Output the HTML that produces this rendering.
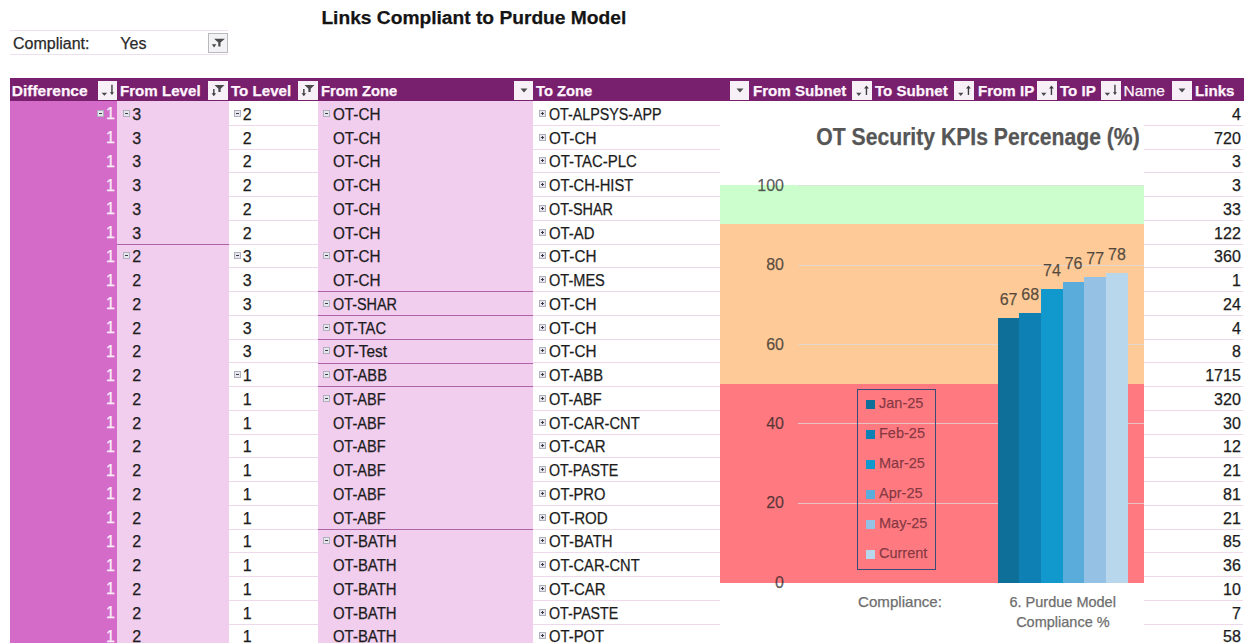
<!DOCTYPE html>
<html><head><meta charset="utf-8"><style>
*{margin:0;padding:0;box-sizing:border-box}
html,body{width:1256px;height:643px;overflow:hidden;background:#fff}
body{position:relative;font-family:"Liberation Sans",sans-serif}
.t{position:absolute;line-height:1;white-space:nowrap;-webkit-text-stroke:0.25px currentColor}
.r{position:absolute}
.ic{position:absolute;width:7px;height:7px;background:#e6e6ee;border:1px solid #b0b0bc}
.ic i{position:absolute;left:1px;top:2px;width:3px;height:1px;background:#3c3c44}
.ic b{position:absolute;left:2px;top:1px;width:1px;height:3px;background:#3c3c44}
</style></head><body>
<div class="t" style="left:321.40px;top:7.55px;font-size:19.2px;color:#141414;font-weight:bold;">Links Compliant to Purdue Model</div>
<div class="r" style="left:10.00px;top:30.00px;width:218.00px;height:1.00px;background:#eedfee;"></div>
<div class="r" style="left:10.00px;top:54.00px;width:218.00px;height:1.00px;background:#eedfee;"></div>
<div class="t" style="left:13.00px;top:35.96px;font-size:16px;color:#2a2a2a;font-weight:normal;">Compliant:</div>
<div class="t" style="left:120.30px;top:35.96px;font-size:16px;color:#2a2a2a;font-weight:normal;">Yes</div>
<div class="r" style="left:208px;top:33px;width:20px;height:20px;background:#f3f3f5;border:1px solid #b9b9bd"><svg width="18" height="18" viewBox="0 0 18 18" style="position:absolute;left:0;top:0"><path d="M5.1 4.7H15.9L11.5 8.6V12.4H9.3V8.6Z" fill="#4a4a4a"/><path d="M2.9 10.2H7.3L5.1 13.4Z" fill="#4a4a4a"/></svg></div>
<div class="r" style="left:10.00px;top:101.00px;width:107.00px;height:542.00px;background:#d46bc9;"></div>
<div class="r" style="left:117.00px;top:101.00px;width:112.00px;height:542.00px;background:#f1cdee;"></div>
<div class="r" style="left:318.00px;top:101.00px;width:215.00px;height:542.00px;background:#f1cdee;"></div>
<div class="r" style="left:229.00px;top:124.75px;width:89.00px;height:1.00px;background:#eed9ec;"></div>
<div class="r" style="left:533.00px;top:124.75px;width:187.00px;height:1.00px;background:#eed9ec;"></div>
<div class="r" style="left:1144.00px;top:124.75px;width:99.00px;height:1.00px;background:#eed9ec;"></div>
<div class="r" style="left:229.00px;top:148.50px;width:89.00px;height:1.00px;background:#eed9ec;"></div>
<div class="r" style="left:533.00px;top:148.50px;width:187.00px;height:1.00px;background:#eed9ec;"></div>
<div class="r" style="left:1144.00px;top:148.50px;width:99.00px;height:1.00px;background:#eed9ec;"></div>
<div class="r" style="left:229.00px;top:172.25px;width:89.00px;height:1.00px;background:#eed9ec;"></div>
<div class="r" style="left:533.00px;top:172.25px;width:187.00px;height:1.00px;background:#eed9ec;"></div>
<div class="r" style="left:1144.00px;top:172.25px;width:99.00px;height:1.00px;background:#eed9ec;"></div>
<div class="r" style="left:229.00px;top:196.00px;width:89.00px;height:1.00px;background:#eed9ec;"></div>
<div class="r" style="left:533.00px;top:196.00px;width:187.00px;height:1.00px;background:#eed9ec;"></div>
<div class="r" style="left:1144.00px;top:196.00px;width:99.00px;height:1.00px;background:#eed9ec;"></div>
<div class="r" style="left:229.00px;top:219.75px;width:89.00px;height:1.00px;background:#eed9ec;"></div>
<div class="r" style="left:533.00px;top:219.75px;width:187.00px;height:1.00px;background:#eed9ec;"></div>
<div class="r" style="left:1144.00px;top:219.75px;width:99.00px;height:1.00px;background:#eed9ec;"></div>
<div class="r" style="left:229.00px;top:243.50px;width:89.00px;height:1.00px;background:#eed9ec;"></div>
<div class="r" style="left:533.00px;top:243.50px;width:187.00px;height:1.00px;background:#eed9ec;"></div>
<div class="r" style="left:1144.00px;top:243.50px;width:99.00px;height:1.00px;background:#eed9ec;"></div>
<div class="r" style="left:229.00px;top:267.25px;width:89.00px;height:1.00px;background:#eed9ec;"></div>
<div class="r" style="left:533.00px;top:267.25px;width:187.00px;height:1.00px;background:#eed9ec;"></div>
<div class="r" style="left:1144.00px;top:267.25px;width:99.00px;height:1.00px;background:#eed9ec;"></div>
<div class="r" style="left:229.00px;top:291.00px;width:89.00px;height:1.00px;background:#eed9ec;"></div>
<div class="r" style="left:533.00px;top:291.00px;width:187.00px;height:1.00px;background:#eed9ec;"></div>
<div class="r" style="left:1144.00px;top:291.00px;width:99.00px;height:1.00px;background:#eed9ec;"></div>
<div class="r" style="left:229.00px;top:314.75px;width:89.00px;height:1.00px;background:#eed9ec;"></div>
<div class="r" style="left:533.00px;top:314.75px;width:187.00px;height:1.00px;background:#eed9ec;"></div>
<div class="r" style="left:1144.00px;top:314.75px;width:99.00px;height:1.00px;background:#eed9ec;"></div>
<div class="r" style="left:229.00px;top:338.50px;width:89.00px;height:1.00px;background:#eed9ec;"></div>
<div class="r" style="left:533.00px;top:338.50px;width:187.00px;height:1.00px;background:#eed9ec;"></div>
<div class="r" style="left:1144.00px;top:338.50px;width:99.00px;height:1.00px;background:#eed9ec;"></div>
<div class="r" style="left:229.00px;top:362.25px;width:89.00px;height:1.00px;background:#eed9ec;"></div>
<div class="r" style="left:533.00px;top:362.25px;width:187.00px;height:1.00px;background:#eed9ec;"></div>
<div class="r" style="left:1144.00px;top:362.25px;width:99.00px;height:1.00px;background:#eed9ec;"></div>
<div class="r" style="left:229.00px;top:386.00px;width:89.00px;height:1.00px;background:#eed9ec;"></div>
<div class="r" style="left:533.00px;top:386.00px;width:187.00px;height:1.00px;background:#eed9ec;"></div>
<div class="r" style="left:1144.00px;top:386.00px;width:99.00px;height:1.00px;background:#eed9ec;"></div>
<div class="r" style="left:229.00px;top:409.75px;width:89.00px;height:1.00px;background:#eed9ec;"></div>
<div class="r" style="left:533.00px;top:409.75px;width:187.00px;height:1.00px;background:#eed9ec;"></div>
<div class="r" style="left:1144.00px;top:409.75px;width:99.00px;height:1.00px;background:#eed9ec;"></div>
<div class="r" style="left:229.00px;top:433.50px;width:89.00px;height:1.00px;background:#eed9ec;"></div>
<div class="r" style="left:533.00px;top:433.50px;width:187.00px;height:1.00px;background:#eed9ec;"></div>
<div class="r" style="left:1144.00px;top:433.50px;width:99.00px;height:1.00px;background:#eed9ec;"></div>
<div class="r" style="left:229.00px;top:457.25px;width:89.00px;height:1.00px;background:#eed9ec;"></div>
<div class="r" style="left:533.00px;top:457.25px;width:187.00px;height:1.00px;background:#eed9ec;"></div>
<div class="r" style="left:1144.00px;top:457.25px;width:99.00px;height:1.00px;background:#eed9ec;"></div>
<div class="r" style="left:229.00px;top:481.00px;width:89.00px;height:1.00px;background:#eed9ec;"></div>
<div class="r" style="left:533.00px;top:481.00px;width:187.00px;height:1.00px;background:#eed9ec;"></div>
<div class="r" style="left:1144.00px;top:481.00px;width:99.00px;height:1.00px;background:#eed9ec;"></div>
<div class="r" style="left:229.00px;top:504.75px;width:89.00px;height:1.00px;background:#eed9ec;"></div>
<div class="r" style="left:533.00px;top:504.75px;width:187.00px;height:1.00px;background:#eed9ec;"></div>
<div class="r" style="left:1144.00px;top:504.75px;width:99.00px;height:1.00px;background:#eed9ec;"></div>
<div class="r" style="left:229.00px;top:528.50px;width:89.00px;height:1.00px;background:#eed9ec;"></div>
<div class="r" style="left:533.00px;top:528.50px;width:187.00px;height:1.00px;background:#eed9ec;"></div>
<div class="r" style="left:1144.00px;top:528.50px;width:99.00px;height:1.00px;background:#eed9ec;"></div>
<div class="r" style="left:229.00px;top:552.25px;width:89.00px;height:1.00px;background:#eed9ec;"></div>
<div class="r" style="left:533.00px;top:552.25px;width:187.00px;height:1.00px;background:#eed9ec;"></div>
<div class="r" style="left:1144.00px;top:552.25px;width:99.00px;height:1.00px;background:#eed9ec;"></div>
<div class="r" style="left:229.00px;top:576.00px;width:89.00px;height:1.00px;background:#eed9ec;"></div>
<div class="r" style="left:533.00px;top:576.00px;width:187.00px;height:1.00px;background:#eed9ec;"></div>
<div class="r" style="left:1144.00px;top:576.00px;width:99.00px;height:1.00px;background:#eed9ec;"></div>
<div class="r" style="left:229.00px;top:599.75px;width:89.00px;height:1.00px;background:#eed9ec;"></div>
<div class="r" style="left:533.00px;top:599.75px;width:187.00px;height:1.00px;background:#eed9ec;"></div>
<div class="r" style="left:1144.00px;top:599.75px;width:99.00px;height:1.00px;background:#eed9ec;"></div>
<div class="r" style="left:229.00px;top:623.50px;width:89.00px;height:1.00px;background:#eed9ec;"></div>
<div class="r" style="left:533.00px;top:623.50px;width:187.00px;height:1.00px;background:#eed9ec;"></div>
<div class="r" style="left:1144.00px;top:623.50px;width:99.00px;height:1.00px;background:#eed9ec;"></div>
<div class="r" style="left:229.00px;top:647.25px;width:89.00px;height:1.00px;background:#eed9ec;"></div>
<div class="r" style="left:533.00px;top:647.25px;width:187.00px;height:1.00px;background:#eed9ec;"></div>
<div class="r" style="left:1144.00px;top:647.25px;width:99.00px;height:1.00px;background:#eed9ec;"></div>
<div class="r" style="left:117.00px;top:244.00px;width:112.00px;height:1.00px;background:#b064a8;"></div>
<div class="r" style="left:318.00px;top:291.30px;width:215.00px;height:1.00px;background:#b064a8;"></div>
<div class="r" style="left:318.00px;top:315.05px;width:215.00px;height:1.00px;background:#b064a8;"></div>
<div class="r" style="left:318.00px;top:338.80px;width:215.00px;height:1.00px;background:#b064a8;"></div>
<div class="r" style="left:318.00px;top:362.55px;width:215.00px;height:1.00px;background:#b064a8;"></div>
<div class="r" style="left:318.00px;top:386.30px;width:215.00px;height:1.00px;background:#b064a8;"></div>
<div class="r" style="left:318.00px;top:528.80px;width:215.00px;height:1.00px;background:#b064a8;"></div>
<div class="r" style="left:10.00px;top:78.00px;width:1234.00px;height:23.00px;background:#78206e;"></div>
<div class="t" style="left:11.80px;top:82.88px;font-size:15.5px;color:#fff4fc;font-weight:bold;">Difference</div>
<div class="r" style="left:97.80px;top:80.80px;width:19.6px;height:18.8px;background:#f7f1f7;"><svg width="19.6" height="18.8" viewBox="0 0 19 19" style="position:absolute;left:0;top:0"><path d="M3.2 11.8H8.9L6.05 15Z" fill="#4a4a4a"/><path d="M13.7 3.8V12" stroke="#3c3c3c" stroke-width="1.4"/><path d="M11.7 11.3H15.7L13.7 14.2Z" fill="#3c3c3c"/></svg></div>
<div class="t" style="left:120.20px;top:82.88px;font-size:15.5px;color:#fff4fc;font-weight:bold;transform:scaleX(0.975);transform-origin:left;">From Level</div>
<div class="r" style="left:208.20px;top:80.80px;width:19.6px;height:18.8px;background:#f7f1f7;"><svg width="19.6" height="18.8" viewBox="0 0 19 19" style="position:absolute;left:0;top:0"><path d="M5.5 8V13" stroke="#3c3c3c" stroke-width="1.4"/><path d="M3.3 12.4H7.7L5.5 15.3Z" fill="#3c3c3c"/><path d="M6.2 4.1H16.3L12.4 7.8V11H10.1V7.8Z" fill="#4a4a4a"/></svg></div>
<div class="t" style="left:231.00px;top:82.88px;font-size:15.5px;color:#fff4fc;font-weight:bold;transform:scaleX(0.975);transform-origin:left;">To Level</div>
<div class="r" style="left:298.00px;top:80.80px;width:19.6px;height:18.8px;background:#f7f1f7;"><svg width="19.6" height="18.8" viewBox="0 0 19 19" style="position:absolute;left:0;top:0"><path d="M5.5 8V13" stroke="#3c3c3c" stroke-width="1.4"/><path d="M3.3 12.4H7.7L5.5 15.3Z" fill="#3c3c3c"/><path d="M6.2 4.1H16.3L12.4 7.8V11H10.1V7.8Z" fill="#4a4a4a"/></svg></div>
<div class="t" style="left:320.90px;top:82.88px;font-size:15.5px;color:#fff4fc;font-weight:bold;transform:scaleX(0.95);transform-origin:left;">From Zone</div>
<div class="r" style="left:513.90px;top:80.80px;width:19.6px;height:18.8px;background:#f7f1f7;"><svg width="19.6" height="18.8" viewBox="0 0 19 19" style="position:absolute;left:0;top:0"><path d="M6.2 7.7H13.2L9.7 11.5Z" fill="#4a4a4a"/></svg></div>
<div class="t" style="left:536.30px;top:82.88px;font-size:15.5px;color:#fff4fc;font-weight:bold;transform:scaleX(0.95);transform-origin:left;">To Zone</div>
<div class="r" style="left:729.60px;top:80.80px;width:19.6px;height:18.8px;background:#f7f1f7;"><svg width="19.6" height="18.8" viewBox="0 0 19 19" style="position:absolute;left:0;top:0"><path d="M6.2 7.7H13.2L9.7 11.5Z" fill="#4a4a4a"/></svg></div>
<div class="t" style="left:752.70px;top:82.88px;font-size:15.5px;color:#fff4fc;font-weight:bold;transform:scaleX(0.975);transform-origin:left;">From Subnet</div>
<div class="r" style="left:852.20px;top:80.80px;width:19.6px;height:18.8px;background:#f7f1f7;"><svg width="19.6" height="18.8" viewBox="0 0 19 19" style="position:absolute;left:0;top:0"><path d="M3.8 11.8H9.1L6.45 15.1Z" fill="#4a4a4a"/><path d="M14.2 6.5V14.1" stroke="#3c3c3c" stroke-width="1.4"/><path d="M11.8 7.6H16.6L14.2 4.6Z" fill="#3c3c3c"/></svg></div>
<div class="t" style="left:874.80px;top:82.88px;font-size:15.5px;color:#fff4fc;font-weight:bold;transform:scaleX(0.975);transform-origin:left;">To Subnet</div>
<div class="r" style="left:954.30px;top:80.80px;width:19.6px;height:18.8px;background:#f7f1f7;"><svg width="19.6" height="18.8" viewBox="0 0 19 19" style="position:absolute;left:0;top:0"><path d="M3.8 11.8H9.1L6.45 15.1Z" fill="#4a4a4a"/><path d="M14.2 6.5V14.1" stroke="#3c3c3c" stroke-width="1.4"/><path d="M11.8 7.6H16.6L14.2 4.6Z" fill="#3c3c3c"/></svg></div>
<div class="t" style="left:977.60px;top:82.88px;font-size:15.5px;color:#fff4fc;font-weight:bold;transform:scaleX(0.975);transform-origin:left;">From IP</div>
<div class="r" style="left:1037.30px;top:80.80px;width:19.6px;height:18.8px;background:#f7f1f7;"><svg width="19.6" height="18.8" viewBox="0 0 19 19" style="position:absolute;left:0;top:0"><path d="M3.8 11.8H9.1L6.45 15.1Z" fill="#4a4a4a"/><path d="M14.2 6.5V14.1" stroke="#3c3c3c" stroke-width="1.4"/><path d="M11.8 7.6H16.6L14.2 4.6Z" fill="#3c3c3c"/></svg></div>
<div class="t" style="left:1060.10px;top:82.88px;font-size:15.5px;color:#fff4fc;font-weight:bold;transform:scaleX(0.975);transform-origin:left;">To IP</div>
<div class="r" style="left:1101.00px;top:80.80px;width:19.6px;height:18.8px;background:#f7f1f7;"><svg width="19.6" height="18.8" viewBox="0 0 19 19" style="position:absolute;left:0;top:0"><path d="M3.2 11.8H8.9L6.05 15Z" fill="#4a4a4a"/><path d="M13.7 3.8V12" stroke="#3c3c3c" stroke-width="1.4"/><path d="M11.7 11.3H15.7L13.7 14.2Z" fill="#3c3c3c"/></svg></div>
<div class="t" style="left:1123.50px;top:82.88px;font-size:15.5px;color:#fff4fc;font-weight:normal;">Name</div>
<div class="r" style="left:1172.00px;top:80.80px;width:19.6px;height:18.8px;background:#f7f1f7;"><svg width="19.6" height="18.8" viewBox="0 0 19 19" style="position:absolute;left:0;top:0"><path d="M6.2 7.7H13.2L9.7 11.5Z" fill="#4a4a4a"/></svg></div>
<div class="t" style="left:1194.90px;top:82.88px;font-size:15.5px;color:#fff4fc;font-weight:bold;transform:scaleX(0.975);transform-origin:left;">Links</div>
<div class="t" style="right:1141.20px;top:106.36px;font-size:16px;color:#fbeefa;font-weight:normal;">1</div>
<div class="t" style="left:132.30px;top:106.96px;font-size:16px;color:#1c1c1c;font-weight:normal;">3</div>
<div class="t" style="left:242.80px;top:106.96px;font-size:16px;color:#1c1c1c;font-weight:normal;">2</div>
<div class="t" style="left:333.00px;top:106.96px;font-size:16px;color:#1c1c1c;font-weight:normal;transform:scaleX(0.952);transform-origin:left;">OT-CH</div>
<div class="t" style="left:548.80px;top:106.96px;font-size:16px;color:#1c1c1c;font-weight:normal;transform:scaleX(0.892);transform-origin:left;">OT-ALPSYS-APP</div>
<div class="t" style="right:15.20px;top:106.96px;font-size:16px;color:#1c1c1c;font-weight:normal;">4</div>
<div class="ic" style="left:96.80px;top:109.90px"><i></i></div>
<div class="ic" style="left:123.00px;top:109.90px"><i></i></div>
<div class="ic" style="left:233.60px;top:109.90px"><i></i></div>
<div class="ic" style="left:322.80px;top:109.90px"><i></i></div>
<div class="ic" style="left:539.20px;top:109.90px"><i></i><b></b></div>
<div class="t" style="right:1141.20px;top:130.11px;font-size:16px;color:#fbeefa;font-weight:normal;">1</div>
<div class="t" style="left:132.30px;top:130.71px;font-size:16px;color:#1c1c1c;font-weight:normal;">3</div>
<div class="t" style="left:242.80px;top:130.71px;font-size:16px;color:#1c1c1c;font-weight:normal;">2</div>
<div class="t" style="left:333.00px;top:130.71px;font-size:16px;color:#1c1c1c;font-weight:normal;transform:scaleX(0.952);transform-origin:left;">OT-CH</div>
<div class="t" style="left:548.80px;top:130.71px;font-size:16px;color:#1c1c1c;font-weight:normal;transform:scaleX(0.952);transform-origin:left;">OT-CH</div>
<div class="t" style="right:15.20px;top:130.71px;font-size:16px;color:#1c1c1c;font-weight:normal;">720</div>
<div class="ic" style="left:539.20px;top:133.65px"><i></i><b></b></div>
<div class="t" style="right:1141.20px;top:153.86px;font-size:16px;color:#fbeefa;font-weight:normal;">1</div>
<div class="t" style="left:132.30px;top:154.46px;font-size:16px;color:#1c1c1c;font-weight:normal;">3</div>
<div class="t" style="left:242.80px;top:154.46px;font-size:16px;color:#1c1c1c;font-weight:normal;">2</div>
<div class="t" style="left:333.00px;top:154.46px;font-size:16px;color:#1c1c1c;font-weight:normal;transform:scaleX(0.952);transform-origin:left;">OT-CH</div>
<div class="t" style="left:548.80px;top:154.46px;font-size:16px;color:#1c1c1c;font-weight:normal;transform:scaleX(0.935);transform-origin:left;">OT-TAC-PLC</div>
<div class="t" style="right:15.20px;top:154.46px;font-size:16px;color:#1c1c1c;font-weight:normal;">3</div>
<div class="ic" style="left:539.20px;top:157.40px"><i></i><b></b></div>
<div class="t" style="right:1141.20px;top:177.61px;font-size:16px;color:#fbeefa;font-weight:normal;">1</div>
<div class="t" style="left:132.30px;top:178.21px;font-size:16px;color:#1c1c1c;font-weight:normal;">3</div>
<div class="t" style="left:242.80px;top:178.21px;font-size:16px;color:#1c1c1c;font-weight:normal;">2</div>
<div class="t" style="left:333.00px;top:178.21px;font-size:16px;color:#1c1c1c;font-weight:normal;transform:scaleX(0.952);transform-origin:left;">OT-CH</div>
<div class="t" style="left:548.80px;top:178.21px;font-size:16px;color:#1c1c1c;font-weight:normal;transform:scaleX(0.92);transform-origin:left;">OT-CH-HIST</div>
<div class="t" style="right:15.20px;top:178.21px;font-size:16px;color:#1c1c1c;font-weight:normal;">3</div>
<div class="ic" style="left:539.20px;top:181.15px"><i></i><b></b></div>
<div class="t" style="right:1141.20px;top:201.36px;font-size:16px;color:#fbeefa;font-weight:normal;">1</div>
<div class="t" style="left:132.30px;top:201.96px;font-size:16px;color:#1c1c1c;font-weight:normal;">3</div>
<div class="t" style="left:242.80px;top:201.96px;font-size:16px;color:#1c1c1c;font-weight:normal;">2</div>
<div class="t" style="left:333.00px;top:201.96px;font-size:16px;color:#1c1c1c;font-weight:normal;transform:scaleX(0.952);transform-origin:left;">OT-CH</div>
<div class="t" style="left:548.80px;top:201.96px;font-size:16px;color:#1c1c1c;font-weight:normal;transform:scaleX(0.9);transform-origin:left;">OT-SHAR</div>
<div class="t" style="right:15.20px;top:201.96px;font-size:16px;color:#1c1c1c;font-weight:normal;">33</div>
<div class="ic" style="left:539.20px;top:204.90px"><i></i><b></b></div>
<div class="t" style="right:1141.20px;top:225.11px;font-size:16px;color:#fbeefa;font-weight:normal;">1</div>
<div class="t" style="left:132.30px;top:225.71px;font-size:16px;color:#1c1c1c;font-weight:normal;">3</div>
<div class="t" style="left:242.80px;top:225.71px;font-size:16px;color:#1c1c1c;font-weight:normal;">2</div>
<div class="t" style="left:333.00px;top:225.71px;font-size:16px;color:#1c1c1c;font-weight:normal;transform:scaleX(0.952);transform-origin:left;">OT-CH</div>
<div class="t" style="left:548.80px;top:225.71px;font-size:16px;color:#1c1c1c;font-weight:normal;transform:scaleX(0.93);transform-origin:left;">OT-AD</div>
<div class="t" style="right:15.20px;top:225.71px;font-size:16px;color:#1c1c1c;font-weight:normal;">122</div>
<div class="ic" style="left:539.20px;top:228.65px"><i></i><b></b></div>
<div class="t" style="right:1141.20px;top:248.86px;font-size:16px;color:#fbeefa;font-weight:normal;">1</div>
<div class="t" style="left:132.30px;top:249.46px;font-size:16px;color:#1c1c1c;font-weight:normal;">2</div>
<div class="t" style="left:242.80px;top:249.46px;font-size:16px;color:#1c1c1c;font-weight:normal;">3</div>
<div class="t" style="left:333.00px;top:249.46px;font-size:16px;color:#1c1c1c;font-weight:normal;transform:scaleX(0.952);transform-origin:left;">OT-CH</div>
<div class="t" style="left:548.80px;top:249.46px;font-size:16px;color:#1c1c1c;font-weight:normal;transform:scaleX(0.952);transform-origin:left;">OT-CH</div>
<div class="t" style="right:15.20px;top:249.46px;font-size:16px;color:#1c1c1c;font-weight:normal;">360</div>
<div class="ic" style="left:123.00px;top:252.40px"><i></i></div>
<div class="ic" style="left:233.60px;top:252.40px"><i></i></div>
<div class="ic" style="left:322.80px;top:252.40px"><i></i></div>
<div class="ic" style="left:539.20px;top:252.40px"><i></i><b></b></div>
<div class="t" style="right:1141.20px;top:272.61px;font-size:16px;color:#fbeefa;font-weight:normal;">1</div>
<div class="t" style="left:132.30px;top:273.21px;font-size:16px;color:#1c1c1c;font-weight:normal;">2</div>
<div class="t" style="left:242.80px;top:273.21px;font-size:16px;color:#1c1c1c;font-weight:normal;">3</div>
<div class="t" style="left:333.00px;top:273.21px;font-size:16px;color:#1c1c1c;font-weight:normal;transform:scaleX(0.952);transform-origin:left;">OT-CH</div>
<div class="t" style="left:548.80px;top:273.21px;font-size:16px;color:#1c1c1c;font-weight:normal;transform:scaleX(0.91);transform-origin:left;">OT-MES</div>
<div class="t" style="right:15.20px;top:273.21px;font-size:16px;color:#1c1c1c;font-weight:normal;">1</div>
<div class="ic" style="left:539.20px;top:276.15px"><i></i><b></b></div>
<div class="t" style="right:1141.20px;top:296.36px;font-size:16px;color:#fbeefa;font-weight:normal;">1</div>
<div class="t" style="left:132.30px;top:296.96px;font-size:16px;color:#1c1c1c;font-weight:normal;">2</div>
<div class="t" style="left:242.80px;top:296.96px;font-size:16px;color:#1c1c1c;font-weight:normal;">3</div>
<div class="t" style="left:333.00px;top:296.96px;font-size:16px;color:#1c1c1c;font-weight:normal;transform:scaleX(0.9);transform-origin:left;">OT-SHAR</div>
<div class="t" style="left:548.80px;top:296.96px;font-size:16px;color:#1c1c1c;font-weight:normal;transform:scaleX(0.952);transform-origin:left;">OT-CH</div>
<div class="t" style="right:15.20px;top:296.96px;font-size:16px;color:#1c1c1c;font-weight:normal;">24</div>
<div class="ic" style="left:322.80px;top:299.90px"><i></i></div>
<div class="ic" style="left:539.20px;top:299.90px"><i></i><b></b></div>
<div class="t" style="right:1141.20px;top:320.11px;font-size:16px;color:#fbeefa;font-weight:normal;">1</div>
<div class="t" style="left:132.30px;top:320.71px;font-size:16px;color:#1c1c1c;font-weight:normal;">2</div>
<div class="t" style="left:242.80px;top:320.71px;font-size:16px;color:#1c1c1c;font-weight:normal;">3</div>
<div class="t" style="left:333.00px;top:320.71px;font-size:16px;color:#1c1c1c;font-weight:normal;transform:scaleX(0.925);transform-origin:left;">OT-TAC</div>
<div class="t" style="left:548.80px;top:320.71px;font-size:16px;color:#1c1c1c;font-weight:normal;transform:scaleX(0.952);transform-origin:left;">OT-CH</div>
<div class="t" style="right:15.20px;top:320.71px;font-size:16px;color:#1c1c1c;font-weight:normal;">4</div>
<div class="ic" style="left:322.80px;top:323.65px"><i></i></div>
<div class="ic" style="left:539.20px;top:323.65px"><i></i><b></b></div>
<div class="t" style="right:1141.20px;top:343.86px;font-size:16px;color:#fbeefa;font-weight:normal;">1</div>
<div class="t" style="left:132.30px;top:344.46px;font-size:16px;color:#1c1c1c;font-weight:normal;">2</div>
<div class="t" style="left:242.80px;top:344.46px;font-size:16px;color:#1c1c1c;font-weight:normal;">3</div>
<div class="t" style="left:333.00px;top:344.46px;font-size:16px;color:#1c1c1c;font-weight:normal;transform:scaleX(0.965);transform-origin:left;">OT-Test</div>
<div class="t" style="left:548.80px;top:344.46px;font-size:16px;color:#1c1c1c;font-weight:normal;transform:scaleX(0.952);transform-origin:left;">OT-CH</div>
<div class="t" style="right:15.20px;top:344.46px;font-size:16px;color:#1c1c1c;font-weight:normal;">8</div>
<div class="ic" style="left:322.80px;top:347.40px"><i></i></div>
<div class="ic" style="left:539.20px;top:347.40px"><i></i><b></b></div>
<div class="t" style="right:1141.20px;top:367.61px;font-size:16px;color:#fbeefa;font-weight:normal;">1</div>
<div class="t" style="left:132.30px;top:368.21px;font-size:16px;color:#1c1c1c;font-weight:normal;">2</div>
<div class="t" style="left:242.80px;top:368.21px;font-size:16px;color:#1c1c1c;font-weight:normal;">1</div>
<div class="t" style="left:333.00px;top:368.21px;font-size:16px;color:#1c1c1c;font-weight:normal;transform:scaleX(0.92);transform-origin:left;">OT-ABB</div>
<div class="t" style="left:548.80px;top:368.21px;font-size:16px;color:#1c1c1c;font-weight:normal;transform:scaleX(0.92);transform-origin:left;">OT-ABB</div>
<div class="t" style="right:15.20px;top:368.21px;font-size:16px;color:#1c1c1c;font-weight:normal;">1715</div>
<div class="ic" style="left:233.60px;top:371.15px"><i></i></div>
<div class="ic" style="left:322.80px;top:371.15px"><i></i></div>
<div class="ic" style="left:539.20px;top:371.15px"><i></i><b></b></div>
<div class="t" style="right:1141.20px;top:391.36px;font-size:16px;color:#fbeefa;font-weight:normal;">1</div>
<div class="t" style="left:132.30px;top:391.96px;font-size:16px;color:#1c1c1c;font-weight:normal;">2</div>
<div class="t" style="left:242.80px;top:391.96px;font-size:16px;color:#1c1c1c;font-weight:normal;">1</div>
<div class="t" style="left:333.00px;top:391.96px;font-size:16px;color:#1c1c1c;font-weight:normal;transform:scaleX(0.91);transform-origin:left;">OT-ABF</div>
<div class="t" style="left:548.80px;top:391.96px;font-size:16px;color:#1c1c1c;font-weight:normal;transform:scaleX(0.91);transform-origin:left;">OT-ABF</div>
<div class="t" style="right:15.20px;top:391.96px;font-size:16px;color:#1c1c1c;font-weight:normal;">320</div>
<div class="ic" style="left:322.80px;top:394.90px"><i></i></div>
<div class="ic" style="left:539.20px;top:394.90px"><i></i><b></b></div>
<div class="t" style="right:1141.20px;top:415.11px;font-size:16px;color:#fbeefa;font-weight:normal;">1</div>
<div class="t" style="left:132.30px;top:415.71px;font-size:16px;color:#1c1c1c;font-weight:normal;">2</div>
<div class="t" style="left:242.80px;top:415.71px;font-size:16px;color:#1c1c1c;font-weight:normal;">1</div>
<div class="t" style="left:333.00px;top:415.71px;font-size:16px;color:#1c1c1c;font-weight:normal;transform:scaleX(0.91);transform-origin:left;">OT-ABF</div>
<div class="t" style="left:548.80px;top:415.71px;font-size:16px;color:#1c1c1c;font-weight:normal;transform:scaleX(0.919);transform-origin:left;">OT-CAR-CNT</div>
<div class="t" style="right:15.20px;top:415.71px;font-size:16px;color:#1c1c1c;font-weight:normal;">30</div>
<div class="ic" style="left:539.20px;top:418.65px"><i></i><b></b></div>
<div class="t" style="right:1141.20px;top:438.86px;font-size:16px;color:#fbeefa;font-weight:normal;">1</div>
<div class="t" style="left:132.30px;top:439.46px;font-size:16px;color:#1c1c1c;font-weight:normal;">2</div>
<div class="t" style="left:242.80px;top:439.46px;font-size:16px;color:#1c1c1c;font-weight:normal;">1</div>
<div class="t" style="left:333.00px;top:439.46px;font-size:16px;color:#1c1c1c;font-weight:normal;transform:scaleX(0.91);transform-origin:left;">OT-ABF</div>
<div class="t" style="left:548.80px;top:439.46px;font-size:16px;color:#1c1c1c;font-weight:normal;transform:scaleX(0.937);transform-origin:left;">OT-CAR</div>
<div class="t" style="right:15.20px;top:439.46px;font-size:16px;color:#1c1c1c;font-weight:normal;">12</div>
<div class="ic" style="left:539.20px;top:442.40px"><i></i><b></b></div>
<div class="t" style="right:1141.20px;top:462.61px;font-size:16px;color:#fbeefa;font-weight:normal;">1</div>
<div class="t" style="left:132.30px;top:463.21px;font-size:16px;color:#1c1c1c;font-weight:normal;">2</div>
<div class="t" style="left:242.80px;top:463.21px;font-size:16px;color:#1c1c1c;font-weight:normal;">1</div>
<div class="t" style="left:333.00px;top:463.21px;font-size:16px;color:#1c1c1c;font-weight:normal;transform:scaleX(0.91);transform-origin:left;">OT-ABF</div>
<div class="t" style="left:548.80px;top:463.21px;font-size:16px;color:#1c1c1c;font-weight:normal;transform:scaleX(0.889);transform-origin:left;">OT-PASTE</div>
<div class="t" style="right:15.20px;top:463.21px;font-size:16px;color:#1c1c1c;font-weight:normal;">21</div>
<div class="ic" style="left:539.20px;top:466.15px"><i></i><b></b></div>
<div class="t" style="right:1141.20px;top:486.36px;font-size:16px;color:#fbeefa;font-weight:normal;">1</div>
<div class="t" style="left:132.30px;top:486.96px;font-size:16px;color:#1c1c1c;font-weight:normal;">2</div>
<div class="t" style="left:242.80px;top:486.96px;font-size:16px;color:#1c1c1c;font-weight:normal;">1</div>
<div class="t" style="left:333.00px;top:486.96px;font-size:16px;color:#1c1c1c;font-weight:normal;transform:scaleX(0.91);transform-origin:left;">OT-ABF</div>
<div class="t" style="left:548.80px;top:486.96px;font-size:16px;color:#1c1c1c;font-weight:normal;transform:scaleX(0.92);transform-origin:left;">OT-PRO</div>
<div class="t" style="right:15.20px;top:486.96px;font-size:16px;color:#1c1c1c;font-weight:normal;">81</div>
<div class="ic" style="left:539.20px;top:489.90px"><i></i><b></b></div>
<div class="t" style="right:1141.20px;top:510.11px;font-size:16px;color:#fbeefa;font-weight:normal;">1</div>
<div class="t" style="left:132.30px;top:510.71px;font-size:16px;color:#1c1c1c;font-weight:normal;">2</div>
<div class="t" style="left:242.80px;top:510.71px;font-size:16px;color:#1c1c1c;font-weight:normal;">1</div>
<div class="t" style="left:333.00px;top:510.71px;font-size:16px;color:#1c1c1c;font-weight:normal;transform:scaleX(0.91);transform-origin:left;">OT-ABF</div>
<div class="t" style="left:548.80px;top:510.71px;font-size:16px;color:#1c1c1c;font-weight:normal;transform:scaleX(0.944);transform-origin:left;">OT-ROD</div>
<div class="t" style="right:15.20px;top:510.71px;font-size:16px;color:#1c1c1c;font-weight:normal;">21</div>
<div class="ic" style="left:539.20px;top:513.65px"><i></i><b></b></div>
<div class="t" style="right:1141.20px;top:533.86px;font-size:16px;color:#fbeefa;font-weight:normal;">1</div>
<div class="t" style="left:132.30px;top:534.46px;font-size:16px;color:#1c1c1c;font-weight:normal;">2</div>
<div class="t" style="left:242.80px;top:534.46px;font-size:16px;color:#1c1c1c;font-weight:normal;">1</div>
<div class="t" style="left:333.00px;top:534.46px;font-size:16px;color:#1c1c1c;font-weight:normal;transform:scaleX(0.934);transform-origin:left;">OT-BATH</div>
<div class="t" style="left:548.80px;top:534.46px;font-size:16px;color:#1c1c1c;font-weight:normal;transform:scaleX(0.934);transform-origin:left;">OT-BATH</div>
<div class="t" style="right:15.20px;top:534.46px;font-size:16px;color:#1c1c1c;font-weight:normal;">85</div>
<div class="ic" style="left:322.80px;top:537.40px"><i></i></div>
<div class="ic" style="left:539.20px;top:537.40px"><i></i><b></b></div>
<div class="t" style="right:1141.20px;top:557.61px;font-size:16px;color:#fbeefa;font-weight:normal;">1</div>
<div class="t" style="left:132.30px;top:558.21px;font-size:16px;color:#1c1c1c;font-weight:normal;">2</div>
<div class="t" style="left:242.80px;top:558.21px;font-size:16px;color:#1c1c1c;font-weight:normal;">1</div>
<div class="t" style="left:333.00px;top:558.21px;font-size:16px;color:#1c1c1c;font-weight:normal;transform:scaleX(0.934);transform-origin:left;">OT-BATH</div>
<div class="t" style="left:548.80px;top:558.21px;font-size:16px;color:#1c1c1c;font-weight:normal;transform:scaleX(0.919);transform-origin:left;">OT-CAR-CNT</div>
<div class="t" style="right:15.20px;top:558.21px;font-size:16px;color:#1c1c1c;font-weight:normal;">36</div>
<div class="ic" style="left:539.20px;top:561.15px"><i></i><b></b></div>
<div class="t" style="right:1141.20px;top:581.36px;font-size:16px;color:#fbeefa;font-weight:normal;">1</div>
<div class="t" style="left:132.30px;top:581.96px;font-size:16px;color:#1c1c1c;font-weight:normal;">2</div>
<div class="t" style="left:242.80px;top:581.96px;font-size:16px;color:#1c1c1c;font-weight:normal;">1</div>
<div class="t" style="left:333.00px;top:581.96px;font-size:16px;color:#1c1c1c;font-weight:normal;transform:scaleX(0.934);transform-origin:left;">OT-BATH</div>
<div class="t" style="left:548.80px;top:581.96px;font-size:16px;color:#1c1c1c;font-weight:normal;transform:scaleX(0.937);transform-origin:left;">OT-CAR</div>
<div class="t" style="right:15.20px;top:581.96px;font-size:16px;color:#1c1c1c;font-weight:normal;">10</div>
<div class="ic" style="left:539.20px;top:584.90px"><i></i><b></b></div>
<div class="t" style="right:1141.20px;top:605.11px;font-size:16px;color:#fbeefa;font-weight:normal;">1</div>
<div class="t" style="left:132.30px;top:605.71px;font-size:16px;color:#1c1c1c;font-weight:normal;">2</div>
<div class="t" style="left:242.80px;top:605.71px;font-size:16px;color:#1c1c1c;font-weight:normal;">1</div>
<div class="t" style="left:333.00px;top:605.71px;font-size:16px;color:#1c1c1c;font-weight:normal;transform:scaleX(0.934);transform-origin:left;">OT-BATH</div>
<div class="t" style="left:548.80px;top:605.71px;font-size:16px;color:#1c1c1c;font-weight:normal;transform:scaleX(0.889);transform-origin:left;">OT-PASTE</div>
<div class="t" style="right:15.20px;top:605.71px;font-size:16px;color:#1c1c1c;font-weight:normal;">7</div>
<div class="ic" style="left:539.20px;top:608.65px"><i></i><b></b></div>
<div class="t" style="right:1141.20px;top:628.86px;font-size:16px;color:#fbeefa;font-weight:normal;">1</div>
<div class="t" style="left:132.30px;top:629.46px;font-size:16px;color:#1c1c1c;font-weight:normal;">2</div>
<div class="t" style="left:242.80px;top:629.46px;font-size:16px;color:#1c1c1c;font-weight:normal;">1</div>
<div class="t" style="left:333.00px;top:629.46px;font-size:16px;color:#1c1c1c;font-weight:normal;transform:scaleX(0.934);transform-origin:left;">OT-BATH</div>
<div class="t" style="left:548.80px;top:629.46px;font-size:16px;color:#1c1c1c;font-weight:normal;transform:scaleX(0.925);transform-origin:left;">OT-POT</div>
<div class="t" style="right:15.20px;top:629.46px;font-size:16px;color:#1c1c1c;font-weight:normal;">58</div>
<div class="ic" style="left:539.20px;top:632.40px"><i></i><b></b></div>
<div class="r" style="left:720.00px;top:101.00px;width:424.00px;height:542.00px;background:#ffffff;"></div>
<div class="r" style="left:720.00px;top:185.30px;width:424.00px;height:39.00px;background:#ccfdcc;"></div>
<div class="r" style="left:720.00px;top:224.30px;width:424.00px;height:160.10px;background:#fdca98;"></div>
<div class="r" style="left:720.00px;top:384.40px;width:424.00px;height:198.60px;background:#ff7a80;"></div>
<div class="r" style="left:798.00px;top:185.20px;width:346.00px;height:1.00px;background:rgba(220,220,220,0.75);"></div>
<div class="r" style="left:798.00px;top:264.58px;width:346.00px;height:1.00px;background:rgba(220,220,220,0.75);"></div>
<div class="r" style="left:798.00px;top:343.96px;width:346.00px;height:1.00px;background:rgba(220,220,220,0.75);"></div>
<div class="r" style="left:798.00px;top:423.34px;width:346.00px;height:1.00px;background:rgba(220,220,220,0.75);"></div>
<div class="r" style="left:798.00px;top:502.72px;width:346.00px;height:1.00px;background:rgba(220,220,220,0.75);"></div>
<div class="t" style="right:472.00px;top:177.76px;font-size:16px;color:rgba(30,30,30,0.72);font-weight:normal;">100</div>
<div class="t" style="right:472.00px;top:257.14px;font-size:16px;color:rgba(30,30,30,0.72);font-weight:normal;">80</div>
<div class="t" style="right:472.00px;top:336.52px;font-size:16px;color:rgba(30,30,30,0.72);font-weight:normal;">60</div>
<div class="t" style="right:472.00px;top:415.90px;font-size:16px;color:rgba(30,30,30,0.72);font-weight:normal;">40</div>
<div class="t" style="right:472.00px;top:495.28px;font-size:16px;color:rgba(30,30,30,0.72);font-weight:normal;">20</div>
<div class="t" style="right:472.00px;top:574.66px;font-size:16px;color:rgba(30,30,30,0.72);font-weight:normal;">0</div>
<div class="t" style="left:678.40px;width:600px;text-align:center;top:126.23px;font-size:23px;color:#565656;font-weight:bold;transform:scaleX(0.92);transform-origin:center;">OT Security KPIs Percenage (%)</div>
<div class="r" style="left:997.70px;top:317.90px;width:21.68px;height:265.10px;background:#0e7098;"></div>
<div class="t" style="left:708.54px;width:600px;text-align:center;top:291.96px;font-size:16px;color:rgba(30,30,30,0.72);font-weight:normal;">67</div>
<div class="r" style="left:1019.38px;top:313.30px;width:21.68px;height:269.70px;background:#0f80b4;"></div>
<div class="t" style="left:730.22px;width:600px;text-align:center;top:287.36px;font-size:16px;color:rgba(30,30,30,0.72);font-weight:normal;">68</div>
<div class="r" style="left:1041.06px;top:288.90px;width:21.68px;height:294.10px;background:#1198cc;"></div>
<div class="t" style="left:751.90px;width:600px;text-align:center;top:262.96px;font-size:16px;color:rgba(30,30,30,0.72);font-weight:normal;">74</div>
<div class="r" style="left:1062.74px;top:281.60px;width:21.68px;height:301.40px;background:#5aacda;"></div>
<div class="t" style="left:773.58px;width:600px;text-align:center;top:255.66px;font-size:16px;color:rgba(30,30,30,0.72);font-weight:normal;">76</div>
<div class="r" style="left:1084.42px;top:276.80px;width:21.68px;height:306.20px;background:#95c2e4;"></div>
<div class="t" style="left:795.26px;width:600px;text-align:center;top:250.86px;font-size:16px;color:rgba(30,30,30,0.72);font-weight:normal;">77</div>
<div class="r" style="left:1106.10px;top:272.90px;width:21.68px;height:310.10px;background:#b8d6ec;"></div>
<div class="t" style="left:816.94px;width:600px;text-align:center;top:246.96px;font-size:16px;color:rgba(30,30,30,0.72);font-weight:normal;">78</div>
<div class="r" style="left:857px;top:389px;width:79px;height:180.5px;border:1.5px solid #3c4a78;box-sizing:border-box"></div>
<div class="r" style="left:866.30px;top:400.40px;width:9.00px;height:8.80px;background:#0e7098;"></div>
<div class="t" style="left:879.00px;top:395.93px;font-size:14.5px;color:rgba(70,20,35,0.62);font-weight:normal;">Jan-25</div>
<div class="r" style="left:866.30px;top:430.35px;width:9.00px;height:8.80px;background:#0f80b4;"></div>
<div class="t" style="left:879.00px;top:425.88px;font-size:14.5px;color:rgba(70,20,35,0.62);font-weight:normal;">Feb-25</div>
<div class="r" style="left:866.30px;top:460.30px;width:9.00px;height:8.80px;background:#1198cc;"></div>
<div class="t" style="left:879.00px;top:455.83px;font-size:14.5px;color:rgba(70,20,35,0.62);font-weight:normal;">Mar-25</div>
<div class="r" style="left:866.30px;top:490.25px;width:9.00px;height:8.80px;background:#5aacda;"></div>
<div class="t" style="left:879.00px;top:485.78px;font-size:14.5px;color:rgba(70,20,35,0.62);font-weight:normal;">Apr-25</div>
<div class="r" style="left:866.30px;top:520.20px;width:9.00px;height:8.80px;background:#95c2e4;"></div>
<div class="t" style="left:879.00px;top:515.73px;font-size:14.5px;color:rgba(70,20,35,0.62);font-weight:normal;">May-25</div>
<div class="r" style="left:866.30px;top:550.15px;width:9.00px;height:8.80px;background:#b8d6ec;"></div>
<div class="t" style="left:879.00px;top:545.68px;font-size:14.5px;color:rgba(70,20,35,0.62);font-weight:normal;">Current</div>
<div class="t" style="left:599.80px;width:600px;text-align:center;top:595.13px;font-size:14.5px;color:#6e6e6e;font-weight:normal;transform:scaleX(1.04);transform-origin:center;">Compliance:</div>
<div class="t" style="left:762.70px;width:600px;text-align:center;top:595.13px;font-size:14.5px;color:#6e6e6e;font-weight:normal;">6. Purdue Model</div>
<div class="t" style="left:762.90px;width:600px;text-align:center;top:614.53px;font-size:14.5px;color:#6e6e6e;font-weight:normal;">Compliance %</div>
</body></html>
